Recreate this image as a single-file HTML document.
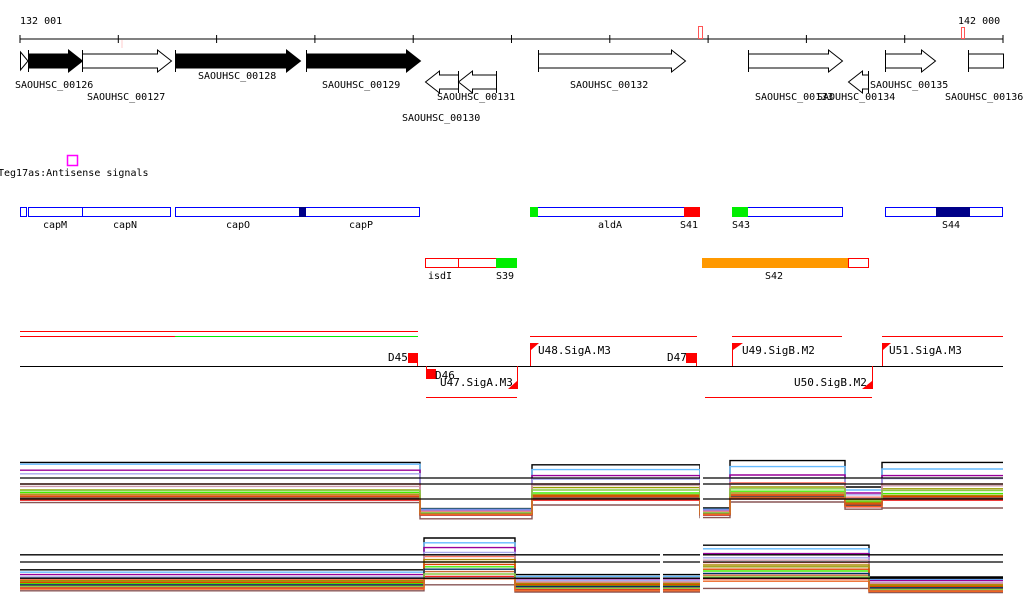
<!DOCTYPE html>
<html><head><meta charset="utf-8"><style>
html,body{margin:0;padding:0;background:#fff;}
svg{display:block;font-family:"DejaVu Sans Mono","Liberation Mono",monospace;font-size:10px;}
</style></head><body>
<svg id="s" width="1024" height="611" viewBox="0 0 1024 611" xmlns="http://www.w3.org/2000/svg">
<g>
<text x="20" y="24">132 001</text>
<text x="958" y="24">142 000</text>
<line x1="20" y1="39" x2="1003" y2="39" stroke="#000"/>
<g id="ticks"></g>
<rect x="698.5" y="26.5" width="4" height="12" fill="none" stroke="#f55"/>
<rect x="961.5" y="27.5" width="3" height="11" fill="none" stroke="#f55"/>
<line x1="122" y1="40" x2="122" y2="48" stroke="#fcc"/>
</g>
<g id="genes"></g>
<g>
<rect x="67.5" y="155.5" width="10" height="10" fill="none" stroke="#f0f" stroke-width="1.5"/>
<text x="-2" y="176">Teg17as:Antisense signals</text>
</g>
<g fill="none" stroke="#00f">
<rect x="20.5" y="207.5" width="6" height="9"/>
<rect x="28.5" y="207.5" width="142" height="9"/>
<line x1="82.5" y1="207" x2="82.5" y2="217"/>
<rect x="175.5" y="207.5" width="244" height="9"/>
<rect x="299" y="207" width="7" height="10" fill="#008" stroke="none"/>
<rect x="530.5" y="207.5" width="169" height="9"/>
<rect x="530" y="207" width="8" height="10" fill="#0e0" stroke="none"/>
<rect x="684" y="207" width="16" height="10" fill="#f00" stroke="none"/>
<rect x="732.5" y="207.5" width="110" height="9"/>
<rect x="732" y="207" width="16" height="10" fill="#0e0" stroke="none"/>
<rect x="885.5" y="207.5" width="117" height="9"/>
<rect x="936" y="207" width="34" height="10" fill="#008" stroke="none"/>
</g>
<g>
<text x="43" y="228">capM</text><text x="113" y="228">capN</text><text x="226" y="228">capO</text><text x="349" y="228">capP</text>
<text x="598" y="228">aldA</text><text x="680" y="228">S41</text><text x="732" y="228">S43</text><text x="942" y="228">S44</text>
</g>
<g>
<rect x="425.5" y="258.5" width="91" height="9" fill="none" stroke="#f00"/>
<line x1="458.5" y1="258" x2="458.5" y2="268" stroke="#f00"/>
<rect x="496" y="258" width="21" height="10" fill="#0e0"/>
<rect x="702" y="258" width="146" height="10" fill="#f90"/>
<rect x="848.5" y="258.5" width="20" height="9" fill="none" stroke="#f00"/>
<text x="428" y="279">isdI</text><text x="496" y="279">S39</text><text x="765" y="279">S42</text>
</g>
<g stroke-width="1">
<line x1="20" y1="331.5" x2="418" y2="331.5" stroke="#f00"/>
<line x1="20" y1="336.5" x2="175" y2="336.5" stroke="#f00"/>
<line x1="175" y1="336.5" x2="418" y2="336.5" stroke="#0e0"/>
<line x1="530" y1="336.5" x2="697" y2="336.5" stroke="#f00"/>
<line x1="732" y1="336.5" x2="842" y2="336.5" stroke="#f00"/>
<line x1="882" y1="336.5" x2="1003" y2="336.5" stroke="#f00"/>
<line x1="426" y1="397.5" x2="517" y2="397.5" stroke="#f00"/>
<line x1="705" y1="397.5" x2="872" y2="397.5" stroke="#f00"/>
<line x1="20" y1="366.5" x2="1003" y2="366.5" stroke="#000"/>
<g fill="#f00" stroke="#f00">
<rect x="408" y="353" width="10" height="10" stroke="none"/><line x1="417.5" y1="353" x2="417.5" y2="366"/>
<rect x="426" y="369" width="10" height="10" stroke="none"/><line x1="426.5" y1="366" x2="426.5" y2="379"/>
<rect x="686" y="353" width="10" height="10" stroke="none"/><line x1="696.5" y1="353" x2="696.5" y2="366"/>
<line x1="530.5" y1="343" x2="530.5" y2="366"/><polygon points="531,343 539,343 531,350" stroke="none"/>
<line x1="732.5" y1="343" x2="732.5" y2="366"/><polygon points="733,343 743,343 733,350" stroke="none"/>
<line x1="882.5" y1="343" x2="882.5" y2="366"/><polygon points="883,343 891,343 883,350" stroke="none"/>
<line x1="517.5" y1="366" x2="517.5" y2="389"/><polygon points="517,381 517,389 508,389" stroke="none"/>
<line x1="872.5" y1="366" x2="872.5" y2="389"/><polygon points="872,381 872,389 862,389" stroke="none"/>
</g>
<g font-size="11" fill="#000">
<text x="388" y="361">D45</text><text x="435" y="379">D46</text><text x="440" y="386">U47.SigA.M3</text>
<text x="538" y="354">U48.SigA.M3</text><text x="667" y="361">D47</text><text x="742" y="354">U49.SigB.M2</text>
<text x="794" y="386">U50.SigB.M2</text><text x="889" y="354">U51.SigA.M3</text>
</g>
</g>
<g id="expr1"></g>
<g id="expr2"></g>
</svg>
<script>
const breaks1 = [20, 420, 532, 700, 730, 845, 882, 1003];
const breaks2 = [20, 424, 515, 702, 869, 1003];
const colors = ["#000","#6bf","#909","#aae","#f76","#990","#4e0","#c63","#e22","#855","#c9a","#a80","#d40","#036","#8c4","#e62"];
const t1s1 = [9.6,1.9,9.2,2.0,9.9,5.5,9.6];
const t1s2 = [9.3,1.8,8.4,1.8,8.9,5.0,8.5];
const t1s3 = [8.3,1.6,7.4,1.6,7.5,4.5,7.4];
const t1s4 = [7.7,1.5,6.8,1.5,7.0,4.2,6.9];
const t1s5 = [6.0,1.4,6.0,1.4,6.2,3.8,6.0];
const t1s6 = [5.0,1.2,5.4,1.2,5.5,3.4,5.2];
const t1s7 = [4.6,1.1,4.5,1.1,4.8,3.0,4.4];
const t1s8 = [3.8,1.0,3.8,1.0,4.0,2.6,3.8];
const t1s9 = [3.3,0.8,3.3,0.8,3.5,2.2,3.3];
const t1s10 = [2.9,0.2,2.5,0.4,3.0,1.8,2.0];
const t1s11 = [5.6,1.3,5.8,1.3,6.0,3.6,5.7];
const t1s12 = [4.3,1.05,4.2,1.05,4.5,2.9,4.1];
const t1s13 = [4.0,1.0,4.0,1.0,4.2,2.7,3.9];
const t1s14 = [3.6,0.9,3.6,0.9,3.8,2.4,3.6];
const t1s15 = [4.9,1.2,5.0,1.2,5.2,3.2,4.9];
const t1s16 = [3.5,0.9,3.5,0.9,3.7,2.3,3.5];
const t2s1 = [4.7,10.0,3.9,8.8,3.5];
const t2s2 = [4.3,9.2,3.6,8.2,3.1];
const t2s3 = [3.9,8.4,3.2,7.4,2.9];
const t2s4 = [3.5,7.6,2.9,6.7,2.6];
const t2s5 = [3.1,6.9,2.6,5.9,2.3];
const t2s6 = [2.7,6.0,2.3,5.2,2.0];
const t2s7 = [2.4,5.2,2.0,4.5,1.8];
const t2s8 = [2.0,4.4,1.7,3.8,1.5];
const t2s9 = [1.7,3.6,1.4,3.2,1.3];
const t2s10 = [1.2,2.2,1.0,1.6,0.9];
const t2s11 = [3.3,7.2,2.7,6.3,2.5];
const t2s12 = [2.9,6.4,2.4,5.5,2.2];
const t2s13 = [2.6,5.6,2.2,4.8,1.9];
const t2s14 = [2.2,4.8,1.9,4.1,1.7];
const t2s15 = [1.9,4.0,1.6,3.5,1.4];
const t2s16 = [1.5,3.2,1.2,2.8,1.1];
const track1 = [t1s1,t1s2,t1s3,t1s4,t1s5,t1s6,t1s7,t1s8,t1s9,t1s10,t1s11,t1s12,t1s13,t1s14,t1s15,t1s16];
const track2 = [t2s1,t2s2,t2s3,t2s4,t2s5,t2s6,t2s7,t2s8,t2s9,t2s10,t2s11,t2s12,t2s13,t2s14,t2s15,t2s16];
const refs1 = [7.0,6.0,3.5];
const refs2 = [7.2,6.0,3.3];
const tickValues = [0,1,2,3,4,5,6,7,8,9,10];
const NS="http://www.w3.org/2000/svg";
function mk(tag,attrs,parent){const e=document.createElementNS(NS,tag);for(const k in attrs)e.setAttribute(k,attrs[k]);parent.appendChild(e);return e;}
const y1=v=>520-v*6, y2=v=>598-v*6;
const xr=i=>20+i*98.3;
const tg=document.getElementById('ticks');
tickValues.forEach(t=>{const l=mk('line',{x1:xr(t),x2:xr(t),y1:35,y2:43,stroke:'#000'},tg);

});
function drawTrack(g,breaks,series,ys,refs){
  series.forEach((vals,si)=>{
    let d='';
    vals.forEach((v,i)=>{const xa=breaks[i],xb=breaks[i+1];d+=(i?'L':'M')+xa+' '+ys(v).toFixed(1)+'L'+xb+' '+ys(v).toFixed(1);});
    const p=mk('path',{d:d,fill:'none',stroke:colors[si],'stroke-width':1.4},g);
    
    
  });
  refs.forEach(r=>{const l=mk('line',{x1:20,x2:1003,y1:ys(r),y2:ys(r),stroke:'#000','stroke-width':1.3},g);
  
  });
}
drawTrack(document.getElementById('expr1'),breaks1,track1,y1,refs1);
drawTrack(document.getElementById('expr2'),breaks2,track2,y2,refs2);
[[700,455,3,65],[660,530,3,70],[700,530,3,70]].forEach(r=>{const e=mk('rect',{x:r[0],y:r[1],width:r[2],height:r[3],fill:'#fff'},document.getElementById('s'));

});
const geneNames=["SAOUHSC_00126","SAOUHSC_00127","SAOUHSC_00128","SAOUHSC_00129","SAOUHSC_00130","SAOUHSC_00131","SAOUHSC_00132","SAOUHSC_00133","SAOUHSC_00134","SAOUHSC_00135","SAOUHSC_00136"];
const geneStart=[28,82,175,306,425,458,538,748,848,885,968];
const geneEnd=[82,171,300,420,458,496,685,842,868,935,1003];
const geneStrand=[1,1,1,1,-1,-1,1,1,-1,1,0];
const geneFill=[1,0,1,1,0,0,0,0,0,0,0];
const labelX=[15,87,198,322,402,437,570,755,817,870,945];
const labelY=[88,100,79,88,121,100,88,100,100,88,100];
const gg=document.getElementById('genes');
mk('polygon',{points:'20.5,52 28,61 20.5,70',fill:'#fff',stroke:'#000'},gg);
geneNames.forEach((n,i)=>{
  const a=geneStart[i]+0.5,b=geneEnd[i]+0.5,cy=geneStrand[i]<0?82:61;
  let pts;
  if(geneStrand[i]>0) pts=[[a,cy-7],[b-14,cy-7],[b-14,cy-11],[b,cy],[b-14,cy+11],[b-14,cy+7],[a,cy+7]];
  else if(geneStrand[i]<0) pts=[[b,cy-7],[a+14,cy-7],[a+14,cy-11],[a,cy],[a+14,cy+11],[a+14,cy+7],[b,cy+7]];
  else pts=[[a,cy-7],[b,cy-7],[b,cy+7],[a,cy+7]];
  const p=mk('polygon',{points:pts.map(q=>q.join(',')).join(' '),fill:geneFill[i]?'#000':'#fff',stroke:'#000'},gg);
  
  
  const sx=geneStrand[i]<0?b:a;
  mk('line',{x1:sx,x2:sx,y1:cy-11,y2:cy+11,stroke:'#000'},gg);
  const t=mk('text',{x:labelX[i],y:labelY[i]},gg);t.textContent=n;
  
  
});
</script>
</body></html>
